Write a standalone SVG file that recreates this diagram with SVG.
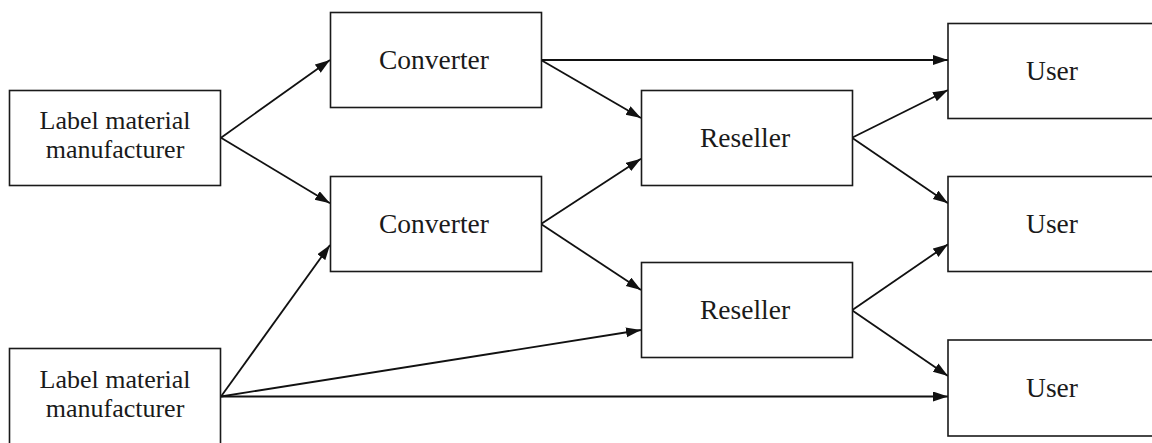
<svg xmlns="http://www.w3.org/2000/svg" width="1152" height="443" viewBox="0 0 1152 443">
<style>
.box{fill:#fff;stroke:#1a1a1a;stroke-width:1.6}
.lbl{font-family:"Liberation Serif","Times New Roman",serif;font-size:27.5px;fill:#1a1a1a;text-anchor:middle}
.lbl2{font-size:26px}
.edge{fill:none;stroke:#111;stroke-width:1.8}
</style>
<defs>
<marker id="arr" markerUnits="userSpaceOnUse" markerWidth="16" markerHeight="11" refX="15" refY="5" orient="auto">
<path d="M0,0 L15,5 L0,10 z" fill="#111"/>
</marker>
</defs>
<rect width="1152" height="443" fill="#fff"/>
<g id="connectors">
<line class="edge" x1="221" y1="137.7" x2="330" y2="60" marker-end="url(#arr)"/>
<line class="edge" x1="221" y1="137.7" x2="330" y2="203.3" marker-end="url(#arr)"/>
<line class="edge" x1="221" y1="396.5" x2="330" y2="245" marker-end="url(#arr)"/>
<line class="edge" x1="221" y1="396.5" x2="641" y2="330" marker-end="url(#arr)"/>
<line class="edge" x1="221" y1="396.5" x2="948" y2="396.5" marker-end="url(#arr)"/>
<line class="edge" x1="541" y1="60" x2="948" y2="60" marker-end="url(#arr)"/>
<line class="edge" x1="541" y1="60" x2="641" y2="118" marker-end="url(#arr)"/>
<line class="edge" x1="541" y1="224" x2="641" y2="158.7" marker-end="url(#arr)"/>
<line class="edge" x1="541" y1="224" x2="641" y2="290" marker-end="url(#arr)"/>
<line class="edge" x1="852" y1="137.7" x2="948" y2="90" marker-end="url(#arr)"/>
<line class="edge" x1="852" y1="137.7" x2="948" y2="203.3" marker-end="url(#arr)"/>
<line class="edge" x1="852" y1="310.3" x2="948" y2="244.3" marker-end="url(#arr)"/>
<line class="edge" x1="852" y1="310.3" x2="948" y2="376" marker-end="url(#arr)"/>
</g>
<g id="lm1">
<rect class="box" x="9.5" y="90.5" width="211" height="95"/>
<text class="lbl lbl2" x="115" y="129">Label material</text>
<text class="lbl lbl2" x="115" y="158">manufacturer</text>
</g>
<g id="lm2">
<rect class="box" x="9.5" y="348.5" width="211" height="97"/>
<text class="lbl lbl2" x="115" y="387.5">Label material</text>
<text class="lbl lbl2" x="115" y="416.5">manufacturer</text>
</g>
<g id="conv1">
<rect class="box" x="330.5" y="12.5" width="211" height="95"/>
<text class="lbl" x="434" y="69.3">Converter</text>
</g>
<g id="conv2">
<rect class="box" x="330.5" y="176.5" width="211" height="95"/>
<text class="lbl" x="434" y="233.3">Converter</text>
</g>
<g id="res1">
<rect class="box" x="641.5" y="90.5" width="211" height="95"/>
<text class="lbl" x="745" y="146.7">Reseller</text>
</g>
<g id="res2">
<rect class="box" x="641.5" y="262.5" width="211" height="95"/>
<text class="lbl" x="745" y="319.3">Reseller</text>
</g>
<g id="user1">
<rect class="box" x="948" y="23.5" width="220" height="95"/>
<text class="lbl" x="1052" y="80">User</text>
</g>
<g id="user2">
<rect class="box" x="948" y="176.5" width="220" height="95"/>
<text class="lbl" x="1052" y="233.3">User</text>
</g>
<g id="user3">
<rect class="box" x="948" y="340" width="220" height="96"/>
<text class="lbl" x="1052" y="397">User</text>
</g>
</svg>
